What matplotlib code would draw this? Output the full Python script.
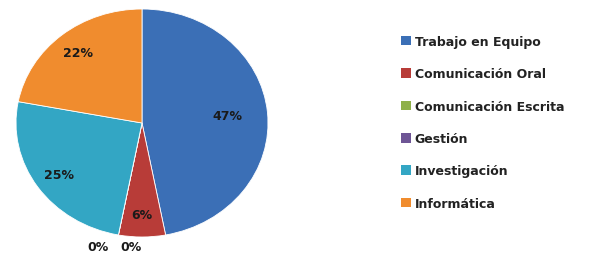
#!/usr/bin/env python3
"""Pie chart of competencies (Spanish labels), 3D-ish Excel look."""

import numpy as np
import matplotlib
matplotlib.use("Agg")
import matplotlib.pyplot as plt
from matplotlib.patches import Patch

# Data
categories = ["Trabajo en Equipo", "Comunicación Oral", "Comunicación Escrita",
              "Gestión", "Investigación", "Informática"]
values = [47, 6, 0, 0, 25, 22]
colors = ["#3b6fb6", "#b83c38", "#8fb04a", "#6e5595", "#33a6c4", "#f08c2e"]

fig = plt.figure(figsize=(5.94, 2.55), dpi=100)
ax = fig.add_axes([16 / 594, 17 / 255, 252 / 594, 228 / 255])

wedges, _ = ax.pie(values, colors=colors, startangle=90, counterclock=False,
                   wedgeprops=dict(edgecolor="white", linewidth=0.6))
ax.set_aspect("auto")
ax.set_xlim(-1, 1)
ax.set_ylim(-1, 1)

# Percent labels
total = sum(values)
zero_idx = [i for i, v in enumerate(values) if v == 0]
for i, (w, v) in enumerate(zip(wedges, values)):
    ang = np.deg2rad((w.theta1 + w.theta2) / 2)
    if v == 0:
        r = 1.1
        shift = -0.14 if i == zero_idx[0] else 0.12
        x, y = r * np.cos(ang) + shift, r * np.sin(ang)
    else:
        r = 0.68 if v > 40 else 0.8
        x, y = r * np.cos(ang), r * np.sin(ang)
    ax.text(x, y, f"{round(100 * v / total)}%", ha="center", va="center",
            fontsize=9, fontweight="bold", color="#1a1a1a")

handles = [Patch(facecolor=c, edgecolor="none") for c in colors]
fig.legend(handles, categories, loc="upper left",
           bbox_to_anchor=(401 / 594, 1 - 36 / 255), frameon=False,
           labelspacing=1.55, handlelength=0.8, handleheight=0.8,
           handletextpad=0.3, borderpad=0, borderaxespad=0,
           prop=dict(size=9, weight="bold"), labelcolor="#222222")

plt.savefig("out.png", dpi=100)
